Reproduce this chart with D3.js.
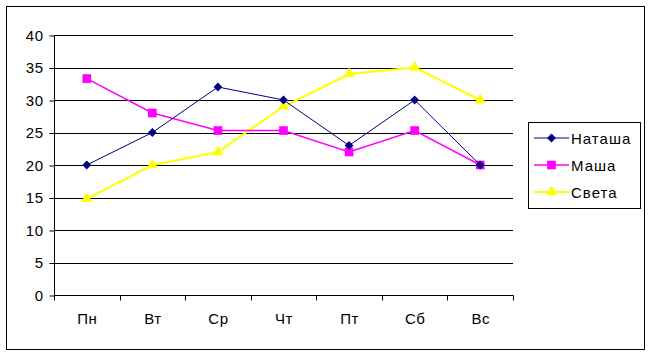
<!DOCTYPE html>
<html><head><meta charset="utf-8">
<script src="https://cdn.jsdelivr.net/npm/d3@7"></script>
<style>body{margin:0;background:#fff}svg{display:block}text{font-family:"Liberation Sans",Arial,sans-serif}</style>
</head><body>
<script>
const categories = ["Пн","Вт","Ср","Чт","Пт","Сб","Вс"];
const natasha = [20,25,32,30,23,30,20];
const masha = [33.3,28,25.3,25.3,22,25.3,20];
const sveta = [14.8,20,22,29,34,35,30];
const yTicks = [0,5,10,15,20,25,30,35,40];
const seriesNames = ["Наташа","Маша","Света"];

const W=652,H=356;
const svg=d3.select("body").append("svg").attr("width",W).attr("height",H);
svg.append("rect").attr("x",6.5).attr("y",6.5).attr("width",638).attr("height",343).attr("fill","#fff").attr("stroke","#000").attr("stroke-width",1);

const x=d3.scaleBand().domain(categories).range([54,513]);
const y=d3.scaleLinear().domain([0,40]).range([295,35]);

svg.append("g").selectAll("line").data(yTicks.filter(d=>d>0)).join("line")
 .attr("x1",54).attr("x2",513).attr("y1",d=>Math.round(y(d))+0.5).attr("y2",d=>Math.round(y(d))+0.5)
 .attr("stroke","#000");

const ya=svg.append("g").attr("transform","translate(54.5,0.5)")
 .call(d3.axisLeft(y).tickValues(yTicks).tickSize(5).tickPadding(6));
ya.select(".domain").attr("d","M-0,"+y(40)+"V"+y(0));
const xa=svg.append("g").attr("transform","translate(0.5,295.5)")
 .call(d3.axisBottom(x).tickSize(0).tickPadding(18));
xa.select(".domain").attr("d","M54,0H513");
xa.selectAll(".bt").data(categories.concat(["__end"])).join("line").attr("class","bt")
 .attr("x1",(d,i)=>i<categories.length?Math.round(x(d)):513).attr("x2",(d,i)=>i<categories.length?Math.round(x(d)):513)
 .attr("y1",0).attr("y2",5).attr("stroke","#000");
svg.selectAll(".tick text").attr("font-size",15).attr("fill","#000").attr("letter-spacing",0.5).attr("font-family","Liberation Sans, Arial, sans-serif");

const cx=d=>x(d)+x.bandwidth()/2;
const line=d3.line().x((d,i)=>cx(categories[i])).y(d=>y(d));
const series=[
 {name:seriesNames[0],data:natasha,color:"#000080",w:1,sym:d3.symbolDiamond2,size:50},
 {name:seriesNames[1],data:masha,color:"#FF00FF",w:1.5,sym:d3.symbolSquare,size:75},
 {name:seriesNames[2],data:sveta,color:"#FFFF00",w:2,sym:d3.symbolTriangle,size:55}
];
[series[2],series[1],series[0]].forEach(s=>{
 svg.append("path").attr("d",line(s.data)).attr("fill","none").attr("stroke",s.color).attr("stroke-width",s.w);
 svg.append("g").selectAll("path").data(s.data).join("path")
  .attr("transform",(d,i)=>`translate(${cx(categories[i])},${y(d)})`)
  .attr("d",d3.symbol().type(s.sym).size(s.size)).attr("fill",s.color);
});

const lg=svg.append("g");
lg.append("rect").attr("x",528.5).attr("y",122.5).attr("width",112).attr("height",86).attr("fill","#fff").attr("stroke","#000");
series.forEach((s,i)=>{
 const yy=138+i*27;
 lg.append("line").attr("x1",534).attr("x2",569).attr("y1",yy).attr("y2",yy).attr("stroke",s.color).attr("stroke-width",s.w);
 lg.append("path").attr("transform",`translate(551.5,${yy})`).attr("d",d3.symbol().type(s.sym).size(s.size)).attr("fill",s.color);
 lg.append("text").attr("x",571).attr("y",yy+5.5).attr("font-size",15).attr("letter-spacing",1).text(s.name);
});
</script>
</body></html>
